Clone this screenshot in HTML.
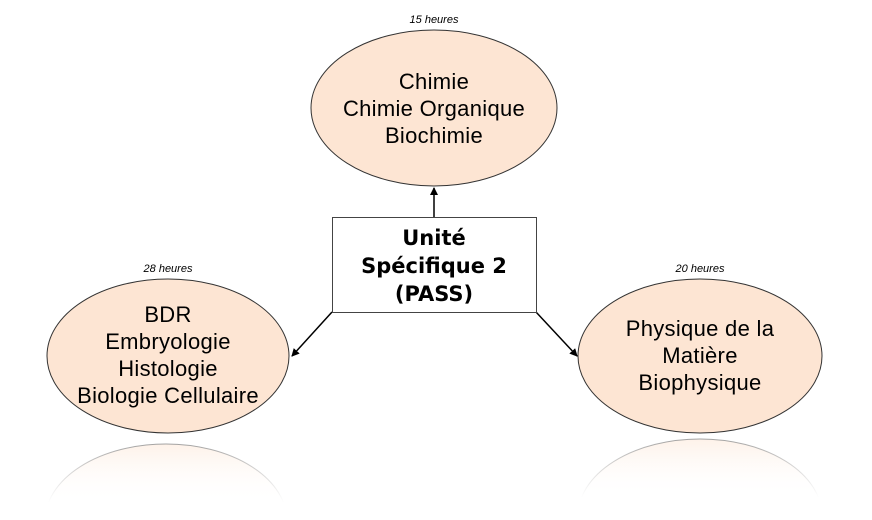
<!DOCTYPE html>
<html><head><meta charset="utf-8"><style>
html,body{margin:0;padding:0;background:#fff;width:872px;height:520px;overflow:hidden;}
svg{display:block}
</style></head><body>
<svg width="872" height="520" viewBox="0 0 872 520" xmlns="http://www.w3.org/2000/svg">
<defs>
<linearGradient id="fade" x1="0" y1="0" x2="0" y2="1">
<stop offset="0" stop-color="#fde9da" stop-opacity="0.6"/>
<stop offset="0.38" stop-color="#fff" stop-opacity="0"/>
</linearGradient>
<linearGradient id="fadeS" x1="0" y1="0" x2="0" y2="1">
<stop offset="0" stop-color="#999" stop-opacity="0.9"/>
<stop offset="0.38" stop-color="#bbb" stop-opacity="0"/>
</linearGradient>
<marker id="ar" markerWidth="8" markerHeight="8" refX="7" refY="4" orient="auto" markerUnits="userSpaceOnUse">
<path d="M0,0 L8,4 L0,8 z" fill="#000"/>
</marker>
</defs>
<ellipse cx="166" cy="521" rx="121" ry="77" fill="url(#fade)" stroke="url(#fadeS)" stroke-width="1"/>
<ellipse cx="700" cy="516" rx="122" ry="77" fill="url(#fade)" stroke="url(#fadeS)" stroke-width="1"/>
<ellipse cx="434" cy="108" rx="123" ry="78" fill="#fde5d3" stroke="#333" stroke-width="1"/>
<ellipse cx="168" cy="356" rx="121" ry="77" fill="#fde5d3" stroke="#333" stroke-width="1"/>
<ellipse cx="700" cy="356" rx="122" ry="77" fill="#fde5d3" stroke="#333" stroke-width="1"/>
<line x1="434" y1="217" x2="434" y2="188" stroke="#000" stroke-width="1.5" marker-end="url(#ar)"/>
<line x1="332" y1="312" x2="292" y2="356" stroke="#000" stroke-width="1.5" marker-end="url(#ar)"/>
<line x1="536" y1="312" x2="577" y2="356" stroke="#000" stroke-width="1.5" marker-end="url(#ar)"/>
<rect x="332.5" y="217.5" width="204" height="95" fill="#fff" stroke="#444" stroke-width="1"/>
<g font-family="DejaVu Sans, sans-serif" font-weight="bold" font-size="21" text-anchor="middle" fill="#000">
<text x="434" y="245">Unité</text>
<text x="434" y="273">Spécifique 2</text>
<text x="434" y="301">(PASS)</text>
</g>
<g font-family="Liberation Sans, sans-serif" font-size="22" text-anchor="middle" fill="#000" letter-spacing="0.3">
<text x="434" y="89">Chimie</text>
<text x="434" y="116">Chimie Organique</text>
<text x="434" y="143">Biochimie</text>
<text x="168" y="322">BDR</text>
<text x="168" y="349">Embryologie</text>
<text x="168" y="376">Histologie</text>
<text x="168" y="403">Biologie Cellulaire</text>
<text x="700" y="336">Physique de la</text>
<text x="700" y="363">Matière</text>
<text x="700" y="390">Biophysique</text>
</g>
<g font-family="Liberation Sans, sans-serif" font-size="11" font-style="italic" text-anchor="middle" fill="#000">
<text x="434" y="23">15 heures</text>
<text x="168" y="272">28 heures</text>
<text x="700" y="272">20 heures</text>
</g>
</svg>
</body></html>
